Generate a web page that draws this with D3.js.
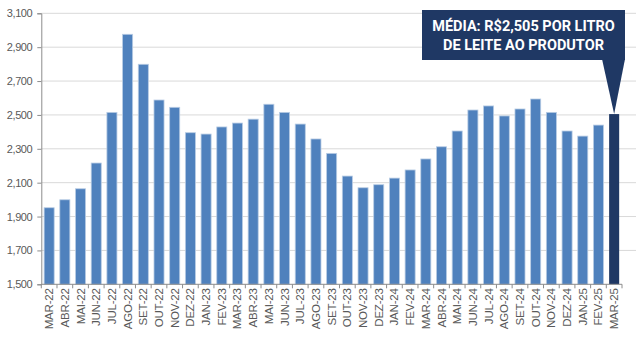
<!DOCTYPE html>
<html><head><meta charset="utf-8">
<script src="https://cdn.jsdelivr.net/npm/d3@7"></script>
<style>body{margin:0;background:#fff}svg{display:block}</style>
</head><body>
<svg id="c" width="637" height="337"></svg>
<script>
const categories = ["MAR-22","ABR-22","MAI-22","JUN-22","JUL-22","AGO-22","SET-22","OUT-22","NOV-22","DEZ-22","JAN-23","FEV-23","MAR-23","ABR-23","MAI-23","JUN-23","JUL-23","AGO-23","SET-23","OUT-23","NOV-23","DEZ-23","JAN-24","FEV-24","MAR-24","ABR-24","MAI-24","JUN-24","JUL-24","AGO-24","SET-24","OUT-24","NOV-24","DEZ-24","JAN-25","FEV-25","MAR-25"];
const values = [1952,1999,2064,2216,2515,2976,2799,2588,2545,2395,2387,2429,2452,2475,2563,2515,2446,2358,2273,2139,2070,2088,2127,2175,2240,2312,2405,2529,2553,2494,2535,2594,2515,2405,2375,2440,2505];
const yTicks = [1500,1700,1900,2100,2300,2500,2700,2900,3100];
const note = ["MÉDIA: R$2,505 POR LITRO","DE LEITE AO PRODUTOR"];

(function(){
const svg = d3.select("#c");
const pl = 41.3, pr = 622, pt = 13.3, pb = 284.3;
const x = d3.scaleBand().domain(categories).range([pl, pr]).paddingInner(0.36).paddingOuter(0.18);
const y = d3.scaleLinear().domain([1500,3100]).range([pb, pt]);

// gridlines
svg.append("g").selectAll("line").data(yTicks.slice(1)).join("line")
  .attr("x1", pl).attr("x2", 636).attr("y1", d=>y(d)).attr("y2", d=>y(d))
  .attr("stroke", "#d9d9d9").attr("stroke-width", 1);

// bars
svg.append("g").selectAll("rect").data(values).join("rect")
  .attr("x", (d,i)=>x(categories[i])).attr("width", x.bandwidth())
  .attr("y", d=>y(d)).attr("height", d=>y(1500)-y(d))
  .attr("fill", (d,i)=> i===values.length-1 ? "#1f3864" : "#4f81bd")
  .attr("stroke", (d,i)=> i===values.length-1 ? "none" : "#b8cce4").attr("stroke-width", 0.8);

// y axis
const ya = svg.append("g").attr("transform", `translate(${pl},0)`)
  .call(d3.axisLeft(y).tickValues(yTicks).tickSize(4).tickFormat(d3.format(",")));
ya.select(".domain").attr("stroke", "#8c8c8c");
ya.selectAll(".tick line").attr("stroke", "#8c8c8c");
ya.selectAll("text").attr("fill", "#595959").attr("font-family", "Liberation Sans, Arial, sans-serif")
  .attr("font-size", 11).attr("letter-spacing", -0.4).attr("x", -9);

// x axis with ticks at band boundaries
const xa = svg.append("g").attr("transform", `translate(0,${pb})`);
xa.append("line").attr("x1", pl).attr("x2", pr).attr("stroke", "#8c8c8c");
const bscale = d3.scaleLinear().domain([0, categories.length]).range([pl, pr]);
xa.selectAll("line.tk").data(d3.range(categories.length+1)).join("line").attr("class","tk")
  .attr("x1", d=>bscale(d)).attr("x2", d=>bscale(d)).attr("y1",0).attr("y2",4).attr("stroke","#8c8c8c");
xa.selectAll("text").data(categories).join("text")
  .attr("transform", d=>`translate(${x(d)+x.bandwidth()/2+4},4) rotate(-90)`)
  .attr("text-anchor","end").attr("fill","#595959")
  .attr("font-family","Liberation Sans, Arial, sans-serif").attr("font-size",11.5).attr("letter-spacing",-0.2)
  .text(d=>d);

// annotation
const lastX = x(categories[categories.length-1]) + x.bandwidth()/2;
const g = svg.append("g");
g.append("rect").attr("x", 422).attr("y", 10).attr("width", 203).attr("height", 50).attr("fill", "#1f3864");
g.append("path").attr("d", `M602,59 L625,59 L${lastX},${y(values[values.length-1])} Z`).attr("fill","#1f3864");
g.selectAll("text").data(note).join("text")
  .attr("x", 523.5).attr("y", (d,i)=>31+i*18.5).attr("text-anchor","middle")
  .attr("fill","#fff").attr("font-family","Roboto, Liberation Sans, sans-serif").attr("font-weight","bold")
  .attr("font-size", 14.5).attr("letter-spacing", 0)
  .text(d=>d);
})();
</script>
</body></html>
